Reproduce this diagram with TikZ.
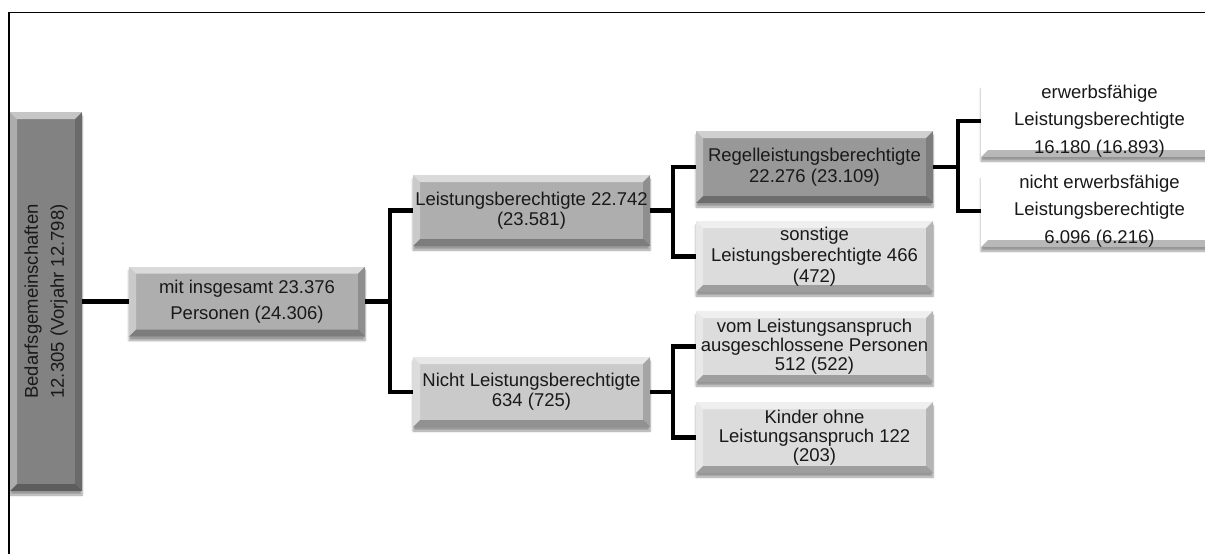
\documentclass[tikz,border=0pt]{standalone}
\usepackage{fontspec}
\setmainfont{Liberation Sans}
\usetikzlibrary{shadows.blur}
\definecolor{gRoot}{RGB}{130,130,130}
\definecolor{gMid}{RGB}{174,174,174}
\definecolor{gReg}{RGB}{152,152,152}
\definecolor{gLight}{RGB}{202,202,202}
\definecolor{gPale}{RGB}{220,220,220}
\definecolor{gWhite}{RGB}{255,255,255}
\tikzset{
  bevel/.style={path picture={
    \fill[white,opacity=0.55] (path picture bounding box.north west) -- (path picture bounding box.north east)
      -- ([xshift=-7pt,yshift=-7pt]path picture bounding box.north east) -- ([xshift=7pt,yshift=-7pt]path picture bounding box.north west) -- cycle;
    \fill[white,opacity=0.35] (path picture bounding box.north west) -- ([xshift=7pt,yshift=-7pt]path picture bounding box.north west)
      -- ([xshift=7pt,yshift=7pt]path picture bounding box.south west) -- (path picture bounding box.south west) -- cycle;
    \fill[black,opacity=0.28] (path picture bounding box.south west) -- ([xshift=7pt,yshift=7pt]path picture bounding box.south west)
      -- ([xshift=-7pt,yshift=7pt]path picture bounding box.south east) -- (path picture bounding box.south east) -- cycle;
    \fill[black,opacity=0.18] (path picture bounding box.south east) -- ([xshift=-7pt,yshift=7pt]path picture bounding box.south east)
      -- ([xshift=-7pt,yshift=-7pt]path picture bounding box.north east) -- (path picture bounding box.north east) -- cycle;
  }},
  box/.style={draw=none, minimum width=237pt, minimum height=71pt, inner sep=0pt, align=center,
    text=black!90, font=\fontsize{18.5}{20}\selectfont, bevel,
    blur shadow={shadow xshift=0pt, shadow yshift=-4pt, shadow blur steps=6, shadow opacity=40}},
  conn/.style={line width=4.6pt, line join=miter, black},
  frameline/.style={line width=1.3pt, black}
}
\begin{document}
\begin{tikzpicture}[x=1pt,y=-1pt]
\useasboundingbox (0,0) rectangle (1205,554);
% frame
\coordinate (ftr) at (1206,12.5);
\coordinate (ftl) at (9,12.5);
\coordinate (fbl) at (9,556);
\draw[frameline] (ftr) -- (ftl) -- (fbl);

% nodes
\node[box, fill=gRoot, minimum width=72pt, minimum height=379pt] (root) at (46,301.5) {};
\node[rotate=90, align=center, text=black!90, font=\fontsize{18.5}{26}\selectfont] (roottext) at (root.center) {Bedarfsgemeinschaften\\12.305 (Vorjahr 12.798)};

\node[box, fill=gMid, minimum width=236pt, minimum height=70pt, font=\fontsize{18.5}{26}\selectfont] (mit) at (247,301.5) {mit insgesamt 23.376\\Personen (24.306)};

\node[box, fill=gMid] (LB) at (531.5,210.5) {Leistungsberechtigte 22.742\\(23.581)};
\node[box, fill=gLight, minimum height=70pt] (NLB) at (531.5,392) {Nicht Leistungsberechtigte\\634 (725)};

\node[box, fill=gReg, minimum height=72pt, font=\fontsize{18.5}{21}\selectfont] (Regel) at (814.5,167) {Regelleistungsberechtigte\\22.276 (23.109)};
\node[box, fill=gPale, font=\fontsize{18.5}{21}\selectfont] (sonst) at (814.5,256.5) {sonstige\\Leistungsberechtigte 466\\(472)};
\node[box, fill=gPale, font=\fontsize{18.5}{19}\selectfont] (vom) at (814.5,346.5) {vom Leistungsanspruch\\ausgeschlossene Personen\\512 (522)};
\node[box, fill=gPale, font=\fontsize{18.5}{19}\selectfont] (Kinder) at (814.5,437.5) {Kinder ohne\\Leistungsanspruch 122\\(203)};

\node[box, fill=gWhite, minimum height=72pt, font=\fontsize{18.5}{27.5}\selectfont] (erw) at (1099.5,121) {erwerbsfähige\\Leistungsberechtigte\\16.180 (16.893)};
\node[box, fill=gWhite, minimum height=72pt, font=\fontsize{18.5}{27.5}\selectfont] (nerw) at (1099.5,211) {nicht erwerbsfähige\\Leistungsberechtigte\\6.096 (6.216)};

% junctions
\coordinate (j1) at (390,301.5);
\coordinate (j2) at (673,210.5);
\coordinate (j3) at (673,392);
\coordinate (j4) at (958,167);

% connectors
\draw[conn] (root.east) -- (mit.west);
\draw[conn] (mit.east) -- (j1);
\draw[conn] (LB.west) -| (j1) |- (NLB.west);
\draw[conn] (LB.east) -- (j2);
\draw[conn] (Regel.west) -| (j2) |- (sonst.west);
\draw[conn] (NLB.east) -- (j3);
\draw[conn] (vom.west) -| (j3) |- (Kinder.west);
\draw[conn] (Regel.east) -- (j4);
\draw[conn] (erw.west) -| (j4) |- (nerw.west);
\end{tikzpicture}
\end{document}
